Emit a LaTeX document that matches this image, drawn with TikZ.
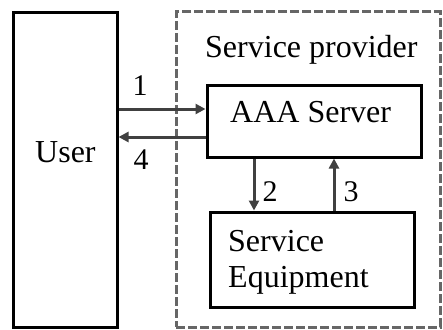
\documentclass[tikz,border=0pt]{standalone}
\usepackage{fontspec}
\setmainfont{Liberation Serif}
\usetikzlibrary{arrows.meta}
\begin{document}
\begin{tikzpicture}[x=1pt,y=-1pt,
  box/.style={draw=black,line width=3pt,rectangle,inner sep=0pt},
  dbox/.style={draw=black!60,line width=3pt,dash pattern=on 9pt off 3pt,rectangle,inner sep=0pt},
  arr/.style={draw=black!75,line width=3pt,-{Triangle[length=10pt,width=10pt]}},
  lbl/.style={anchor=base west,inner sep=0pt,font=\fontsize{32}{38}\selectfont},
  num/.style={anchor=base,inner sep=0pt,font=\fontsize{30}{36}\selectfont}]
\useasboundingbox (0,0) rectangle (443,329);
\node[dbox,minimum width=264pt,minimum height=315pt] (sp) at (308,169.5) {};
\node[box,minimum width=104pt,minimum height=314pt] (user) at (65,170) {};
\node[box,minimum width=214pt,minimum height=72pt] (aaa) at (314,121) {};
\node[box,minimum width=204pt,minimum height=95pt] (se) at (312,259.5) {};
\node[lbl] (tsp) at (205,57) {Service provider};
\node[lbl] (taaa) at (230,122) {AAA Server};
\node[lbl] (tuser) at (35,162) {User};
\node[lbl] (tse1) at (228,251) {Service};
\node[lbl] (tse2) at (228,287) {Equipment};
\draw[arr] (user.east |- 0,109) -- (aaa.west |- 0,109);
\draw[arr] (aaa.west |- 0,137) -- (user.east |- 0,137);
\draw[arr] (aaa.south -| 254,0) -- (se.north -| 254,0);
\draw[arr] (se.north -| 334,0) -- (aaa.south -| 334,0);
\node[num] (n1) at (140,95) {1};
\node[num] (n4) at (141,169) {4};
\node[num] (n2) at (270,201) {2};
\node[num] (n3) at (351,201) {3};
\end{tikzpicture}
\end{document}
